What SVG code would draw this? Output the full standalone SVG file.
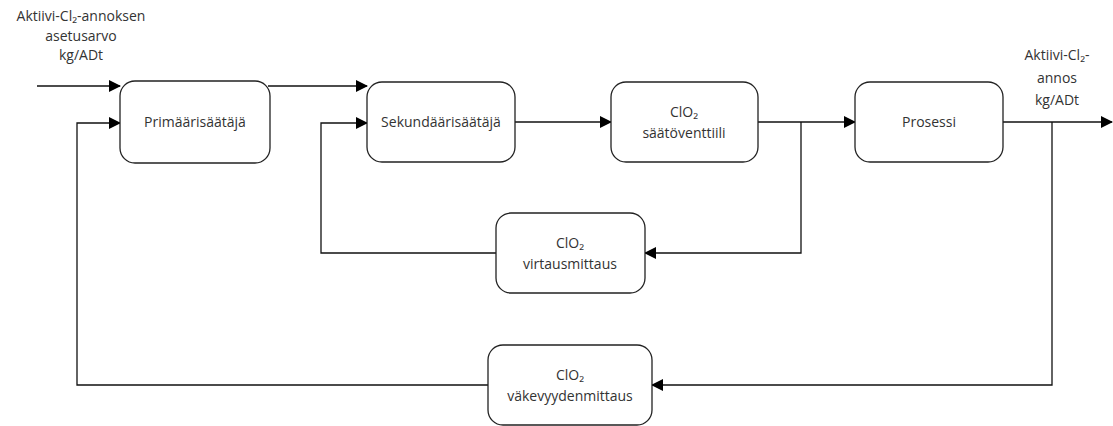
<svg xmlns="http://www.w3.org/2000/svg" width="1113" height="426" viewBox="0 0 1113 426">
<style>
.box{fill:#fff;stroke:#222;stroke-width:1.3}
.t{font-family:"Open Sans","Noto Sans",sans-serif;font-size:14px;fill:#333;text-anchor:middle}
.c{fill:none;stroke:#111;stroke-width:1.3}
</style>
<defs>
<marker id="ah" markerWidth="12" markerHeight="12" refX="11" refY="6" orient="auto" markerUnits="userSpaceOnUse">
<path d="M0,0 L12,6 L0,12 Z" fill="#000"/>
</marker>
</defs>
<rect width="1113" height="426" fill="#fff"/>
<g id="connectors">
<path class="c" d="M37,86 H120" marker-end="url(#ah)"/>
<path class="c" d="M268,86 H367" marker-end="url(#ah)"/>
<path class="c" d="M515,122 H611" marker-end="url(#ah)"/>
<path class="c" d="M758,122 H855" marker-end="url(#ah)"/>
<path class="c" d="M1003,122 H1112" marker-end="url(#ah)"/>
<path class="c" d="M801,122 V253 H645" marker-end="url(#ah)"/>
<path class="c" d="M496,253 H321 V123 H367" marker-end="url(#ah)"/>
<path class="c" d="M1052,122 V385 H652" marker-end="url(#ah)"/>
<path class="c" d="M488,385 H77 V123 H120" marker-end="url(#ah)"/>
</g>
<g id="label-setpoint">
<text class="t" x="81" y="21">Aktiivi-Cl₂-annoksen</text>
<text class="t" x="81" y="41">asetusarvo</text>
<text class="t" x="81" y="60">kg/ADt</text>
</g>
<g id="label-output">
<text class="t" x="1057" y="60">Aktiivi-Cl₂-</text>
<text class="t" x="1057" y="83">annos</text>
<text class="t" x="1057" y="105">kg/ADt</text>
</g>
<g id="primaari">
<rect class="box" x="120" y="81" width="150" height="82" rx="15"/>
<text class="t" x="195" y="127">Primäärisäätäjä</text>
</g>
<g id="sekundaari">
<rect class="box" x="367" y="82" width="148" height="80" rx="15"/>
<text class="t" x="441" y="127">Sekundäärisäätäjä</text>
</g>
<g id="venttiili">
<rect class="box" x="611" y="82" width="147" height="80" rx="15"/>
<text class="t" x="684" y="117">ClO₂</text>
<text class="t" x="684" y="138">säätöventtiili</text>
</g>
<g id="prosessi">
<rect class="box" x="855" y="82" width="148" height="80" rx="15"/>
<text class="t" x="929" y="127">Prosessi</text>
</g>
<g id="virtausmittaus">
<rect class="box" x="496" y="213" width="149" height="80" rx="15"/>
<text class="t" x="570" y="248">ClO₂</text>
<text class="t" x="570" y="269">virtausmittaus</text>
</g>
<g id="vakevyysmittaus">
<rect class="box" x="488" y="345" width="164" height="80" rx="15"/>
<text class="t" x="570" y="380">ClO₂</text>
<text class="t" x="570" y="401">väkevyydenmittaus</text>
</g>
</svg>
